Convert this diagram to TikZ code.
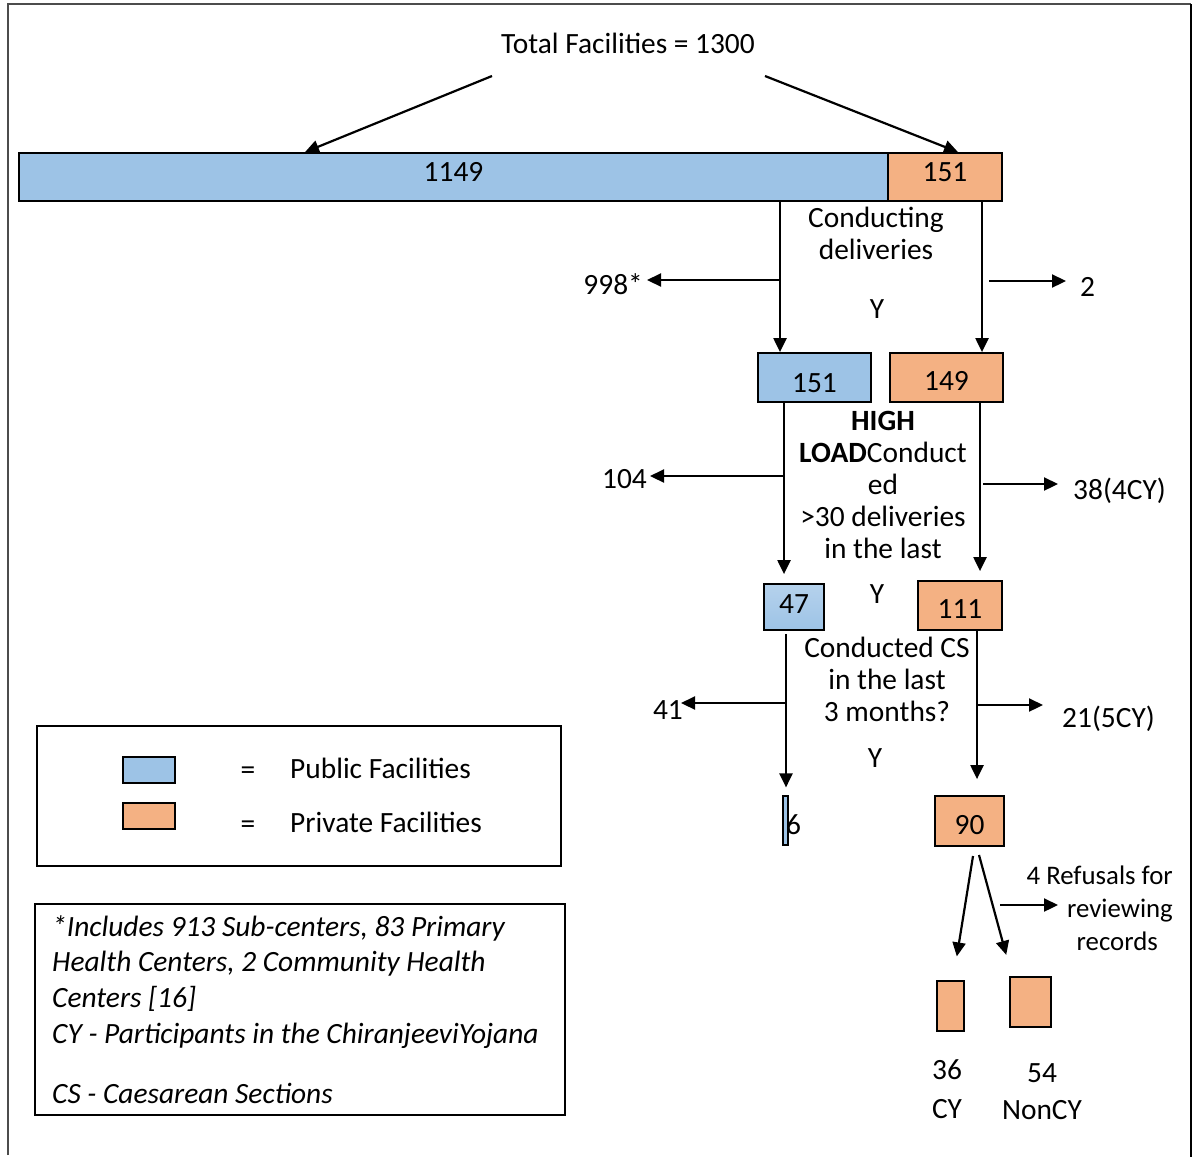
\documentclass[tikz,border=0pt]{standalone}
\usepackage{fontspec}
\setmainfont{Carlito}
\usetikzlibrary{arrows.meta}
\definecolor{pub}{HTML}{9DC3E6}
\definecolor{pri}{HTML}{F4B183}
\newcommand\myfs{\fontsize{29.4}{32}\selectfont}
\newcommand\smfs{\fontsize{26.8}{33}\selectfont}
\begin{document}
\begin{tikzpicture}[x=1pt,y=-1pt,
  box/.style={draw=black, line width=1.8pt, inner sep=0pt, font=\myfs, text depth=0pt},
  pubbox/.style={box, fill=pub},
  pribox/.style={box, fill=pri},
  arr/.style={line width=2.2pt, -{Triangle[length=14pt,width=13pt]}},
  lbl/.style={inner sep=0pt, font=\myfs, align=center},
  note/.style={inner sep=0pt, font=\myfs\itshape, anchor=mid west},
]
\useasboundingbox (0,0) rectangle (1193,1157);
% frame
\draw[line width=1.6pt, gray!60!black] (8,1155) -- (8,4) -- (1191,4);
\draw[line width=1.6pt, black] (1191,4) -- (1191,1157);

% title
\node[lbl] (title) at (628,43) {Total Facilities = 1300};
\coordinate (t1) at (492,76);
\coordinate (t2) at (765,76);

% stage 1
\node[pubbox, minimum width=869pt, minimum height=48pt, text height=8.7pt] (bar) at (453.5,177) {1149};
\node[pribox, minimum width=114pt, minimum height=48pt, text height=8.7pt] (o151) at (945,177) {151};
\coordinate (a1) at (305,0);
\coordinate (a2) at (958,0);
\draw[arr] (t1) -- (bar.north -| a1);
\draw[arr] (t2) -- (o151.north -| a2);

\node[lbl] (q1) at (876,233) {Conducting\\deliveries};
\node[lbl] (y1) at (877,309) {Y};

% stage 2 boxes
\node[pubbox, minimum width=113pt, minimum height=49pt, text height=29.7pt] (b151) at (814.5,377.5) {151};
\node[pribox, minimum width=113pt, minimum height=49pt, text height=25.7pt] (o149) at (946.5,377.5) {149};
\coordinate (vb1) at (780,0);
\coordinate (vo1) at (982,0);
\draw[arr] (bar.south -| vb1) -- (b151.north -| vb1);
\draw[arr] (o151.south -| vo1) -- (o149.north -| vo1);
\coordinate (jb1) at (780,280);
\coordinate (jo1) at (989,281);
\node[lbl, anchor=mid east] (n998) at (643,292) {998*};
\node[lbl, anchor=mid west] (n2) at (1080,294) {2};
\draw[arr] (jb1) -- ([xshift=4pt]n998.east |- jb1);
\draw[arr] (jo1) -- ([xshift=-14pt]n2.west |- jo1);

\node[lbl] (q2) at (883,485) {\textbf{HIGH}\\\textbf{LOAD}Conduct\\ed\\>30 deliveries\\in the last};

% stage 3 boxes
\node[box, top color=pub!75!white, bottom color=pub, minimum width=60pt, minimum height=46pt, text height=12.7pt] (b47) at (794,607) {47};
\node[pribox, minimum width=84pt, minimum height=49pt, text height=25.7pt] (o111) at (960,605.5) {111};
\node[lbl] (y2) at (877,594) {Y};
\coordinate (vb2) at (784,0);
\coordinate (vo2) at (980,0);
\draw[arr, shorten >=9pt] (b151.south -| vb2) -- (b47.north -| vb2);
\draw[arr, shorten >=9pt, shorten <=-2pt] (o149.south -| vo2) -- (o111.north -| vo2);
\coordinate (jb2) at (784,476);
\coordinate (jo2) at (983,484);
\node[lbl, anchor=mid east] (n104) at (647,486) {104};
\node[lbl, anchor=mid west] (n38) at (1073,497) {38(4CY)};
\draw[arr] (jb2) -- ([xshift=3pt]n104.east |- jb2);
\draw[arr] (jo2) -- ([xshift=-15pt]n38.west |- jo2);

\node[lbl] (q3) at (887,679) {Conducted CS\\in the last\\3 months?};

% stage 4 boxes
\node[pubbox, minimum width=5pt, minimum height=49pt, line width=1.2pt] (b6) at (785.5,820.5) {};
\node[lbl, anchor=mid west] (n6) at (786,832) {6};
\node[pribox, minimum width=69pt, minimum height=50pt, text height=26.7pt] (o90) at (969.5,821) {90};
\node[lbl] (y3) at (875,758) {Y};
\coordinate (vb3) at (786,0);
\coordinate (vo3) at (977,0);
\draw[arr, shorten >=8pt, shorten <=3pt] (b47.south -| vb3) -- (b6.north -| vb3);
\draw[arr, shorten >=16pt] (o111.south -| vo3) -- (o90.north -| vo3);
\coordinate (jb3) at (786,703);
\coordinate (jo3) at (977,705);
\node[lbl, anchor=mid east] (n41) at (683,717) {41};
\node[lbl, anchor=mid west] (n21) at (1062,725) {21(5CY)};
\draw[arr] (jb3) -- ([xshift=-2pt]n41.east |- jb3);
\draw[arr] (jo3) -- ([xshift=-19pt]n21.west |- jo3);

% stage 5
\node[pribox, minimum width=27pt, minimum height=50pt] (cy) at (950.5,1006) {};
\node[pribox, minimum width=41pt, minimum height=50pt] (ncy) at (1030.5,1002) {};
\coordinate (s1) at (973,856);
\coordinate (s2) at (979,855);
\coordinate (e1) at (953,0);
\coordinate (e2) at (1012,0);
\draw[arr, shorten >=24pt] (s1) -- (cy.north -| e1);
\draw[arr, shorten >=22pt] (s2) -- (ncy.north -| e2);
\node[lbl, font=\smfs, align=right, anchor=east] (ref) at (1173,908) {4 Refusals for\\reviewing\\records\hspace*{15pt}};
\coordinate (r1) at (1000,905);
\coordinate (r2) at (1058,905);
\draw[arr] (r1) -- (r2);
\node[lbl] (l36) at (947,1070) {36};
\node[lbl] (lcy) at (947,1109) {CY};
\node[lbl] (l54) at (1042,1073) {54};
\node[lbl] (lncy) at (1042,1110) {NonCY};

% legend
\node[draw, line width=1.8pt, inner sep=0pt, minimum width=524pt, minimum height=140pt] (leg) at (299,796) {};
\node[pubbox, minimum width=52pt, minimum height=26pt] (swpub) at (149,770) {};
\node[pribox, minimum width=52pt, minimum height=26pt] (swpri) at (149,816) {};
\node[lbl] (eq1) at (248,773) {=};
\node[lbl] (eq2) at (248,827) {=};
\node[lbl, anchor=mid west] (tpub) at (290,776) {Public Facilities};
\node[lbl, anchor=mid west] (tpri) at (290,830) {Private Facilities};

% notes
\node[draw, line width=1.8pt, inner sep=0pt, minimum width=530pt, minimum height=211pt] (notes) at (300,1009.5) {};
\node[note] (nt1) at (52,934) {*Includes 913 Sub-centers, 83 Primary};
\node[note] (nt2) at (52,969) {Health Centers, 2 Community Health};
\node[note] (nt3) at (52,1005) {Centers [16]};
\node[note] (nt4) at (52,1041) {CY - Participants in the ChiranjeeviYojana};
\node[note] (nt5) at (52,1101) {CS - Caesarean Sections};
\end{tikzpicture}
\end{document}
